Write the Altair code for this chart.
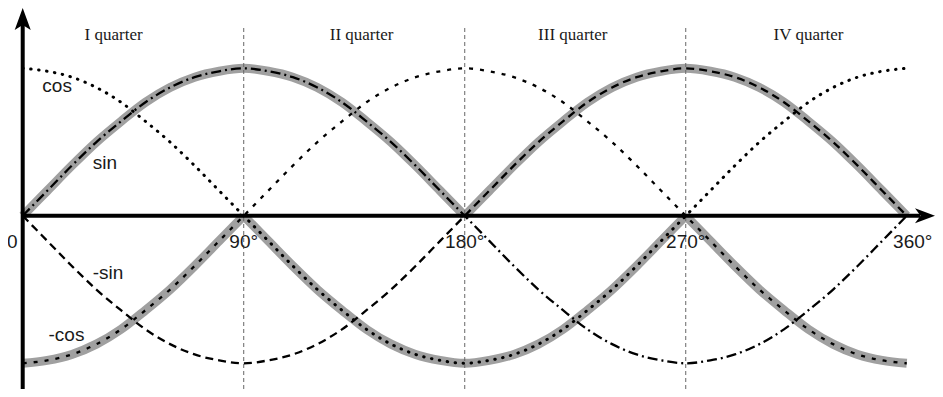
import altair as alt
import pandas as pd

# ---------------- data ----------------
angles = list(range(0, 361, 10))
sin_vals = [0, 0.17, 0.34, 0.5, 0.64, 0.77, 0.87, 0.94, 0.98, 1,
            0.98, 0.94, 0.87, 0.77, 0.64, 0.5, 0.34, 0.17, 0,
            -0.17, -0.34, -0.5, -0.64, -0.77, -0.87, -0.94, -0.98, -1,
            -0.98, -0.94, -0.87, -0.77, -0.64, -0.5, -0.34, -0.17, 0]
cos_vals = [1, 0.98, 0.94, 0.87, 0.77, 0.64, 0.5, 0.34, 0.17, 0,
            -0.17, -0.34, -0.5, -0.64, -0.77, -0.87, -0.94, -0.98, -1,
            -0.98, -0.94, -0.87, -0.77, -0.64, -0.5, -0.34, -0.17, 0,
            0.17, 0.34, 0.5, 0.64, 0.77, 0.87, 0.94, 0.98, 1]
neg_sin_vals = [0, -0.17, -0.34, -0.5, -0.64, -0.77, -0.87, -0.94, -0.98, -1,
                -0.98, -0.94, -0.87, -0.77, -0.64, -0.5, -0.34, -0.17, 0,
                0.17, 0.34, 0.5, 0.64, 0.77, 0.87, 0.94, 0.98, 1,
                0.98, 0.94, 0.87, 0.77, 0.64, 0.5, 0.34, 0.17, 0]
neg_cos_vals = [-1, -0.98, -0.94, -0.87, -0.77, -0.64, -0.5, -0.34, -0.17, 0,
                0.17, 0.34, 0.5, 0.64, 0.77, 0.87, 0.94, 0.98, 1,
                0.98, 0.94, 0.87, 0.77, 0.64, 0.5, 0.34, 0.17, 0,
                -0.17, -0.34, -0.5, -0.64, -0.77, -0.87, -0.94, -0.98, -1]
upper_envelope = [0, 0.17, 0.34, 0.5, 0.64, 0.77, 0.87, 0.94, 0.98, 1,
                  0.98, 0.94, 0.87, 0.77, 0.64, 0.5, 0.34, 0.17, 0,
                  0.17, 0.34, 0.5, 0.64, 0.77, 0.87, 0.94, 0.98, 1,
                  0.98, 0.94, 0.87, 0.77, 0.64, 0.5, 0.34, 0.17, 0]
lower_envelope = [-1, -0.98, -0.94, -0.87, -0.77, -0.64, -0.5, -0.34, -0.17, 0,
                  -0.17, -0.34, -0.5, -0.64, -0.77, -0.87, -0.94, -0.98, -1,
                  -0.98, -0.94, -0.87, -0.77, -0.64, -0.5, -0.34, -0.17, 0,
                  -0.17, -0.34, -0.5, -0.64, -0.77, -0.87, -0.94, -0.98, -1]
upper_breaks = [0, 180, 360]
lower_breaks = [0, 90, 270, 360]

quarter_labels = ["I quarter", "II quarter", "III quarter", "IV quarter"]
quarter_centers = [37, 138, 224, 320]
tick_angles = [0, 90, 180, 270, 360]
tick_labels = ["0", "90°", "180°", "270°", "360°"]
gridline_angles = [90, 180, 270]
curve_names = ["cos", "sin", "-sin", "-cos"]
curve_label_angle = [8, 28.5, 28.5, 10.5]
curve_label_value = [0.84, 0.32, -0.43, -0.85]

# ---------------- tables ----------------
curves = pd.DataFrame({
    "angle": angles * 4,
    "value": sin_vals + cos_vals + neg_sin_vals + neg_cos_vals,
    "series": ["sin"] * 37 + ["cos"] * 37 + ["-sin"] * 37 + ["-cos"] * 37,
})

env_rows = []
for name, vals, breaks in [("up", upper_envelope, upper_breaks),
                           ("low", lower_envelope, lower_breaks)]:
    for k in range(len(breaks) - 1):
        for a, v in zip(angles, vals):
            if breaks[k] <= a <= breaks[k + 1]:
                env_rows.append({"angle": a, "value": v, "segment": f"{name}{k}"})
env = pd.DataFrame(env_rows)

quarters = pd.DataFrame({"angle": quarter_centers, "label": quarter_labels})
ticks = pd.DataFrame({"angle": tick_angles, "label": tick_labels})
grid = pd.DataFrame({"angle": gridline_angles})
clabels = pd.DataFrame({"angle": curve_label_angle, "value": curve_label_value,
                        "label": curve_names})
origin = pd.DataFrame({"angle": [0], "value": [0]})

# ---------------- scales ----------------
W, H = 927, 381
xs = alt.Scale(domain=[-5.99, 371.5], nice=False, zero=False)
ys = alt.Scale(domain=[-1.1742, 1.4089], nice=False, zero=False)
X = alt.X("angle:Q", scale=xs, axis=None)
Y = alt.Y("value:Q", scale=ys, axis=None)

SANS = "Liberation Sans"
SERIF = "Liberation Serif"
TXT = "#1a1a1a"

env_layer = alt.Chart(env).mark_line(
    color="#a0a0a0", strokeWidth=9, interpolate="monotone", strokeCap="butt"
).encode(x=X, y=Y, detail="segment:N")

grid_layer = alt.Chart(grid).mark_rule(
    color="#666666", strokeWidth=1, strokeDash=[4, 3]
).encode(x=X, y=alt.value(20), y2=alt.value(H))

styles = {
    "sin": dict(strokeDash=[10, 4, 2, 4], strokeCap="butt"),
    "cos": dict(strokeDash=[0.5, 7.5], strokeCap="round", strokeWidth=3),
    "-sin": dict(strokeDash=[8, 5], strokeCap="butt"),
    "-cos": dict(strokeDash=[4, 7], strokeCap="butt"),
}
curve_layers = []
for s in ["sin", "cos", "-sin", "-cos"]:
    kw = dict(color="black", strokeWidth=2.3, interpolate="monotone")
    kw.update(styles[s])
    curve_layers.append(
        alt.Chart(curves).transform_filter(alt.datum.series == s)
        .mark_line(**kw).encode(x=X, y=Y)
    )

yaxis = alt.Chart(origin).mark_rule(color="black", strokeWidth=4).encode(
    x=X, y=alt.value(12), y2=alt.value(H))
xaxis = alt.Chart(origin).mark_rule(color="black", strokeWidth=4).encode(
    x=X, x2=alt.value(912), y=Y)
yarrow = alt.Chart(origin).mark_point(
    shape="M0,-1L0.73,1L0,0.55L-0.73,1Z", size=484, filled=True,
    color="black", opacity=1, strokeWidth=0
).encode(x=X, y=alt.value(11))
xarrow = alt.Chart(origin).mark_point(
    shape="M1,0L-1,-0.75L-0.45,0L-1,0.75Z", size=400, filled=True,
    color="black", opacity=1, strokeWidth=0
).encode(x=alt.value(917), y=Y)

quarter_text = alt.Chart(quarters).mark_text(
    font=SERIF, fontSize=17, align="center", baseline="alphabetic", color=TXT
).encode(x=X, y=alt.value(32), text="label:N")

tick_mid = alt.Chart(ticks).transform_filter(
    (alt.datum.angle > 0) & (alt.datum.angle < 360)
).mark_text(
    font=SANS, fontSize=19, align="center", baseline="alphabetic", color=TXT
).encode(x=X, y=alt.value(240), text="label:N")
tick_first = alt.Chart(ticks).transform_filter(alt.datum.angle == 0).mark_text(
    font=SANS, fontSize=19, align="center", baseline="alphabetic", color=TXT, dx=-10.5
).encode(x=X, y=alt.value(240), text="label:N")
tick_last = alt.Chart(ticks).transform_filter(alt.datum.angle == 360).mark_text(
    font=SANS, fontSize=19, align="center", baseline="alphabetic", color=TXT, dx=6
).encode(x=X, y=alt.value(240), text="label:N")

curve_text = alt.Chart(clabels).mark_text(
    font=SANS, fontSize=19, align="left", baseline="alphabetic", color=TXT
).encode(x=X, y=Y, text="label:N")

chart = alt.layer(
    env_layer, grid_layer, *curve_layers, xaxis, yaxis, xarrow, yarrow,
    quarter_text, tick_mid, tick_first, tick_last, curve_text
).properties(
    width=W, height=H, padding=0,
    autosize=alt.AutoSizeParams(type="none"),
    background="white",
).configure_view(stroke=None)

chart.save("out.html", embed_options={"renderer": "svg", "actions": False})
